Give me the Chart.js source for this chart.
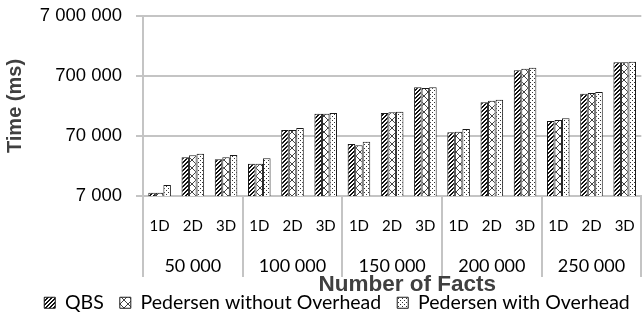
<!DOCTYPE html>
<html>
<head>
<meta charset="utf-8">
<script src="https://cdn.jsdelivr.net/npm/chart.js@4"></script>
<style>
  html, body { margin: 0; padding: 0; background: #fff; overflow: hidden; }
</style>
</head>
<body>
<canvas id="factsChart" width="656" height="320"></canvas>
<script>
// fact table sizes and cube dimensions
const factGroups = ['50 000', '100 000', '150 000', '200 000', '250 000'];
const dimLabels = ['1D', '2D', '3D'];

// run times in ms, one value per (facts, dimension) pair
const qbsTimes = [7900, 30900, 28600, 24200, 88100, 164700, 51500, 169000, 453000, 80600, 254800, 870000, 124500, 355500, 1183000];
const pedNoOverhead = [7900, 33400, 30900, 24200, 88100, 164700, 49000, 173900, 441500, 82600, 271600, 926700, 129300, 364700, 1183000];
const pedWithOverhead = [10700, 35500, 33800, 29700, 95100, 169000, 56300, 177800, 453000, 91500, 282400, 964000, 137800, 378800, 1213000];

const yTickValues = [7000, 70000, 700000, 7000000];
const yTickLabels = ['7 000', '70 000', '700 000', '7 000 000'];

const gridGray = '#c4c4c4';

// band heights below the plot (dimension row, fact-count row)
const PLOT_TOP = 16;
const DIM_ROW_H = 39;
const GROUP_ROW_H = 42;

// small black & white fill patterns for the bars
function makePattern(size, ink, paint) {
    const c = document.createElement('canvas');
    c.width = size;
    c.height = size;
    const g = c.getContext('2d');
    g.fillStyle = '#fff';
    g.fillRect(0, 0, size, size);
    g.fillStyle = ink;
    for (let y = 0; y < size; y++) {
        for (let x = 0; x < size; x++) {
            if (paint(x, y)) g.fillRect(x, y, 1, 1);
        }
    }
    return g.createPattern(c, 'repeat');
}

const hatchDiagonal = makePattern(4, '#111', (x, y) => (x + y) % 4 < 2);
const hatchCross = makePattern(8, '#444', (x, y) => x === y || x === 7 - y);
const hatchDots = makePattern(4, '#333', (x, y) => (x === 0 && y === 0) || (x === 2 && y === 2));

// stack the two x rows right above the legend and let the plot fill the rest
const stackAxes = {
    id: 'stackAxes',
    afterLayout(chart) {
        const { x, x2, y } = chart.scales;
        const legendTop = chart.legend.top;
        x2.bottom = legendTop;
        x2.top = legendTop - GROUP_ROW_H;
        x2.height = GROUP_ROW_H;
        x.bottom = x2.top;
        x.top = x.bottom - DIM_ROW_H;
        x.height = DIM_ROW_H;
        y.top = PLOT_TOP;
        y.bottom = x.top;
        y.height = y.bottom - y.top;
        chart.chartArea = Object.assign({}, chart.chartArea, {
            top: y.top, bottom: y.bottom, height: y.height
        });
        [x, x2, y].forEach(s => s.configure());
    }
};

// dividers between fact groups + the x axis title
const groupDividers = {
    id: 'groupDividers',
    afterDraw(chart) {
        const { ctx, chartArea, scales } = chart;
        const x = scales.x;
        const x2 = scales.x2;
        const slot = x.getPixelForValue(1) - x.getPixelForValue(0);
        ctx.save();
        ctx.strokeStyle = gridGray;
        ctx.lineWidth = 2;
        for (let g = 0; g <= factGroups.length; g++) {
            const px = Math.round(x.getPixelForValue(g * dimLabels.length) - slot / 2);
            ctx.beginPath();
            ctx.moveTo(px, chartArea.bottom);
            ctx.lineTo(px, x2.bottom);
            ctx.stroke();
        }
        ctx.font = 'bold 22.5px "Liberation Sans"';
        ctx.fillStyle = '#404040';
        ctx.textAlign = 'center';
        ctx.textBaseline = 'middle';
        ctx.fillText('Number of Facts', (x.left + x.right) / 2 + 15, x2.bottom + 8);
        ctx.restore();
    }
};

const labels = factGroups.flatMap(() => dimLabels);

new Chart(document.getElementById('factsChart'), {
    type: 'bar',
    data: {
        labels: labels,
        datasets: [
            { label: 'QBS', data: qbsTimes, backgroundColor: hatchDiagonal, borderColor: '#1a1a1a', borderWidth: 1 },
            { label: 'Pedersen without Overhead', data: pedNoOverhead, backgroundColor: hatchCross, borderColor: '#1a1a1a', borderWidth: 1 },
            { label: 'Pedersen with Overhead', data: pedWithOverhead, backgroundColor: hatchDots, borderColor: '#1a1a1a', borderWidth: 1 }
        ]
    },
    options: {
        responsive: false,
        animation: false,
        devicePixelRatio: 1,
        layout: { padding: { left: 25, right: 7, top: 16, bottom: 0 } },
        datasets: { bar: { categoryPercentage: 0.68, barPercentage: 1 } },
        scales: {
            x: {
                type: 'category',
                position: 'bottom',
                offset: true,
                afterFit: (scale) => { scale.height = DIM_ROW_H; },
                grid: { display: false, drawTicks: false },
                border: { display: true, color: gridGray, width: 2 },
                ticks: {
                    padding: 21, color: '#000', autoSkip: false, maxRotation: 0,
                    font: { family: 'Lato', size: 15, lineHeight: 1.2 }
                }
            },
            x2: {
                type: 'category',
                position: 'bottom',
                labels: factGroups,
                offset: true,
                afterFit: (scale) => { scale.height = GROUP_ROW_H; },
                grid: { display: false, drawTicks: false },
                border: { display: false },
                ticks: {
                    padding: 22, color: '#000', autoSkip: false, maxRotation: 0,
                    font: { family: 'Lato', size: 18, lineHeight: 1 }
                }
            },
            y: {
                type: 'logarithmic',
                min: 7000,
                max: 7000000,
                afterBuildTicks: (scale) => { scale.ticks = yTickValues.map(v => ({ value: v })); },
                afterFit: (scale) => { scale.width = 118; },
                grid: { color: gridGray, lineWidth: 2, tickLength: 7 },
                border: { color: gridGray, width: 2 },
                ticks: {
                    padding: 14, color: '#000',
                    font: { family: 'Liberation Sans', size: 18.5 },
                    callback: (v, i) => yTickLabels[i]
                },
                title: {
                    display: true, text: 'Time (ms)', color: '#404040',
                    font: { family: 'Liberation Sans', size: 20, weight: 'bold' },
                    padding: { top: -22, bottom: 0 }
                }
            }
        },
        plugins: {
            legend: {
                position: 'bottom',
                maxHeight: 43,
                labels: {
                    boxWidth: 11, boxHeight: 11, padding: 16, color: '#000',
                    font: { family: 'Lato', size: 19.5 }
                }
            },
            tooltip: { enabled: false }
        }
    },
    plugins: [stackAxes, groupDividers]
});
</script>
</body>
</html>
